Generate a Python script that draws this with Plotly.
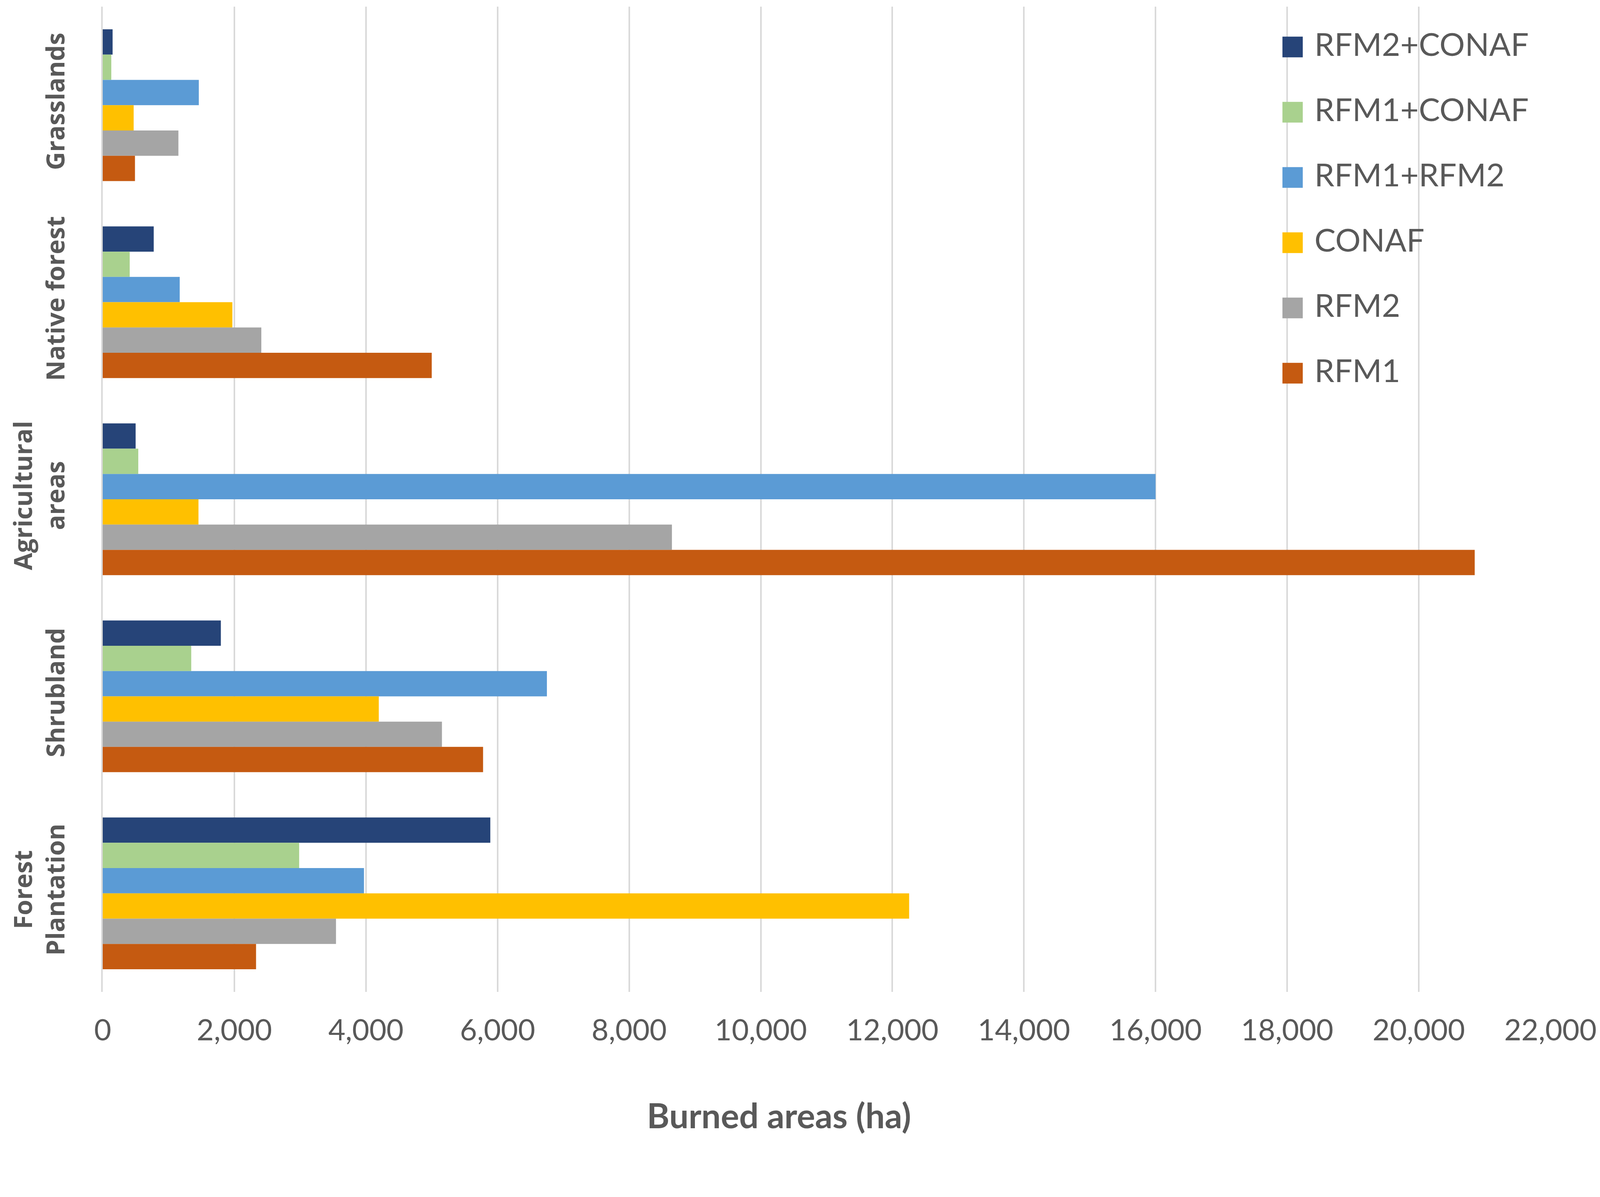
import plotly.graph_objects as go

# land cover classes, top to bottom as shown
categories = ["Grasslands", "Native forest", "Agricultural<br>areas", "Shrubland", "Forest<br>Plantation"]

# burned area (ha) per method, same order as categories
rfm2_conaf = [150, 775, 500, 1795, 5890]
rfm1_conaf = [130, 410, 540, 1345, 2985]
rfm1_rfm2 = [1460, 1170, 16000, 6750, 3970]
conaf = [470, 1970, 1455, 4195, 12255]
rfm2 = [1150, 2410, 8650, 5155, 3545]
rfm1 = [490, 5000, 20850, 5780, 2330]

series_names = ["RFM2+CONAF", "RFM1+CONAF", "RFM1+RFM2", "CONAF", "RFM2", "RFM1"]
series_values = [rfm2_conaf, rfm1_conaf, rfm1_rfm2, conaf, rfm2, rfm1]
series_colors = ["#264478", "#A9D18E", "#5B9BD5", "#FFC000", "#A5A5A5", "#C55A11"]

x_ticks = list(range(0, 22001, 2000))

# the page gets shown a little enlarged, so lay out in picture pixels and shrink
S = 1 / 1.057
W, H = 4317, 3064
# plot area in picture pixels
PL, PR, PT, PB = 270, 4187, 10, 2675
TXT = "#595959"


def px_x(p):
    return (p - PL) / (PR - PL)


def px_y(p):
    return (PB - p) / (PB - PT)


fig = go.Figure()
for name, vals, col in zip(series_names, series_values, series_colors):
    fig.add_trace(go.Bar(
        y=categories, x=vals, name=name, orientation="h",
        marker=dict(color=col, line=dict(width=0)),
        showlegend=False,
    ))

# legend drawn by hand so the swatches can be big like the original
shapes = [dict(type="rect", xref="paper", yref="paper", layer="between",
               x0=px_x(3300), x1=px_x(W), y0=px_y(1089), y1=px_y(28),
               fillcolor="white", line=dict(width=0))]
annotations = []
for i, (name, col) in enumerate(zip(series_names, series_colors)):
    cy = 119 + i * 176.5
    shapes.append(dict(type="rect", xref="paper", yref="paper", layer="above",
                       x0=px_x(3462), x1=px_x(3517), y0=px_y(cy + 28), y1=px_y(cy - 28),
                       fillcolor=col, line=dict(width=0)))
    annotations.append(dict(xref="paper", yref="paper", x=px_x(3546), y=px_y(cy - 9),
                            xanchor="left", yanchor="middle", showarrow=False, text=name,
                            font=dict(family="Lato", size=86 * S, color=TXT)))

# axis title sits left of the plot centre in the original
annotations.append(dict(xref="paper", yref="paper", x=px_x(2100), y=px_y(3008),
                        xanchor="center", yanchor="middle", showarrow=False,
                        text="Burned areas (ha)",
                        font=dict(family="Lato", size=93 * S, color=TXT, weight="bold")))

fig.update_layout(
    width=round(W * S), height=round(H * S),
    margin=dict(l=PL * S, r=(W - PR) * S, t=PT * S, b=(H - PB) * S, pad=0),
    paper_bgcolor="white", plot_bgcolor="white",
    barmode="group", bargap=0.23, bargroupgap=0,
    shapes=shapes, annotations=annotations,
    showlegend=False,
)

fig.update_xaxes(
    range=[0, 22000], tickvals=x_ticks, tickformat=",d",
    showgrid=True, gridcolor="#D9D9D9", gridwidth=4 * S,
    zeroline=False, showline=False, ticks="", automargin=False,
    tickfont=dict(family="Lato", size=80 * S, color=TXT),
    ticklabelstandoff=round(50 * S),
)
fig.update_yaxes(
    autorange="reversed", tickangle=-90, automargin=False,
    showgrid=False, showline=True, linecolor="#D9D9D9", linewidth=4 * S,
    ticks="", ticklabelstandoff=round(72 * S),
    tickfont=dict(family="Open Sans", size=68 * S, color=TXT, weight="bold"),
)

fig.write_html("out.html")
